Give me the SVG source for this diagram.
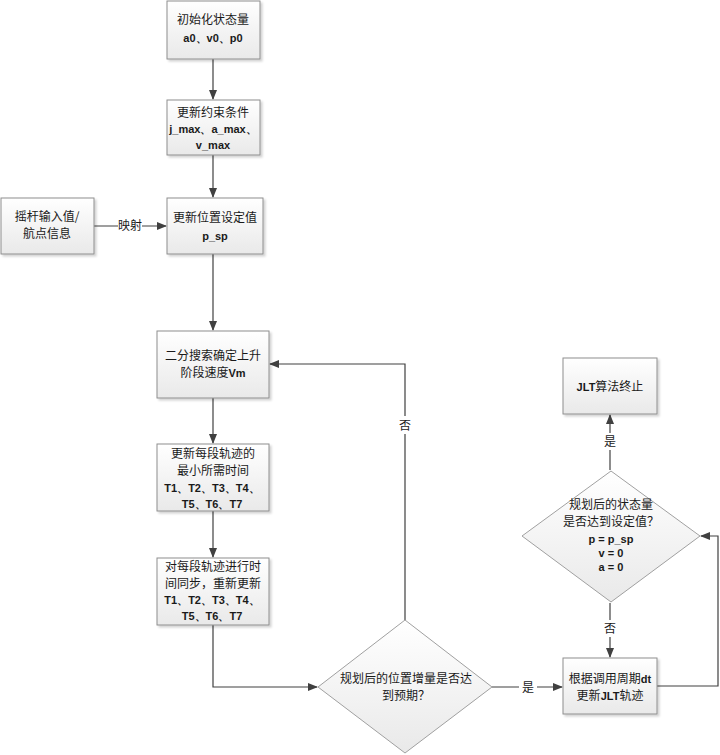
<svg xmlns="http://www.w3.org/2000/svg" width="720" height="755" viewBox="0 0 720 755">
<defs>
<linearGradient id="g" x1="0" y1="0" x2="0" y2="1">
<stop offset="0" stop-color="#ffffff"/>
<stop offset="1" stop-color="#e9e9e9"/>
</linearGradient>
<filter id="sh" x="-10%" y="-10%" width="130%" height="130%">
<feDropShadow dx="2" dy="2" stdDeviation="1.2" flood-color="#000" flood-opacity="0.18"/>
</filter>
<marker id="ah" markerWidth="10" markerHeight="8" refX="9" refY="4" orient="auto" markerUnits="userSpaceOnUse">
<path d="M0,0 L10,4 L0,8 Z" fill="#404040"/>
</marker>
<style>
.box{fill:url(#g);stroke:#8e8e8e;stroke-width:1;filter:url(#sh)}
.dia{fill:url(#g);stroke:#a0a0a0;stroke-width:1}
.cn{font-family:"Noto Sans CJK SC","Noto Sans",sans-serif;font-size:12px;fill:#1a1a1a;text-anchor:middle}
.en{font-family:"Liberation Sans","DejaVu Sans",sans-serif;font-size:11px;font-weight:bold;fill:#1a1a1a;text-anchor:middle}
.b{font-family:"Liberation Sans","DejaVu Sans",sans-serif;font-size:11px;font-weight:bold}
.ln{fill:none;stroke:#404040;stroke-width:1.2}
.lb{font-family:"Noto Sans CJK SC",sans-serif;font-size:12px;fill:#1a1a1a;text-anchor:middle}
</style>
</defs>
<rect width="720" height="755" fill="#ffffff"/>
<g id="connectors">
<path class="ln" d="M213,59 V99" marker-end="url(#ah)"/>
<path class="ln" d="M213,155 V197" marker-end="url(#ah)"/>
<path class="ln" d="M94,226 H166" marker-end="url(#ah)"/>
<rect x="118" y="218" width="24" height="16" fill="#fff"/>
<text class="lb" x="130" y="230">映射</text>
<path class="ln" d="M213,254 V330" marker-end="url(#ah)"/>
<path class="ln" d="M213,398 V443" marker-end="url(#ah)"/>
<path class="ln" d="M213,511 V557" marker-end="url(#ah)"/>
<path class="ln" d="M213,625 V687 H317" marker-end="url(#ah)"/>
<path class="ln" d="M405,620 V364 H270" marker-end="url(#ah)"/>
<rect x="396" y="416" width="18" height="18" fill="#fff"/>
<text class="lb" x="405" y="430">否</text>
<path class="ln" d="M492,687 H562" marker-end="url(#ah)"/>
<rect x="519" y="679" width="18" height="17" fill="#fff"/>
<text class="lb" x="528" y="692">是</text>
<path class="ln" d="M657,686 H718 V536 H701" marker-end="url(#ah)"/>
<path class="ln" d="M610,603 V657" marker-end="url(#ah)"/>
<rect x="601" y="620" width="18" height="17" fill="#fff"/>
<text class="lb" x="610" y="633">否</text>
<path class="ln" d="M610,470 V415" marker-end="url(#ah)"/>
<rect x="601" y="433" width="18" height="17" fill="#fff"/>
<text class="lb" x="610" y="446">是</text>
</g>
<g id="n1">
<rect class="box" x="167" y="1" width="93" height="58"/>
<text class="cn" x="213" y="24">初始化状态量</text>
<text class="en" x="213" y="42">a0、v0、p0</text>
</g>
<g id="n2">
<rect class="box" x="167" y="100" width="93" height="55"/>
<text class="cn" x="213" y="117">更新约束条件</text>
<text class="en" x="213" y="133">j_max、a_max、</text>
<text class="en" x="213" y="149">v_max</text>
</g>
<g id="n0">
<rect class="box" x="1" y="198" width="93" height="56"/>
<text class="cn" x="47" y="221">摇杆输入值/</text>
<text class="cn" x="47" y="238">航点信息</text>
</g>
<g id="n3">
<rect class="box" x="167" y="198" width="96" height="56"/>
<text class="cn" x="215" y="222">更新位置设定值</text>
<text class="en" x="215" y="240">p_sp</text>
</g>
<g id="n4">
<rect class="box" x="157" y="331" width="112" height="67"/>
<text class="cn" x="213" y="360">二分搜索确定上升</text>
<text class="cn" x="213" y="377">阶段速度<tspan class="b">Vm</tspan></text>
</g>
<g id="n5">
<rect class="box" x="157" y="444" width="112" height="67"/>
<text class="cn" x="213" y="458">更新每段轨迹的</text>
<text class="cn" x="213" y="475">最小所需时间</text>
<text class="en" x="212" y="492">T1、T2、T3、T4、</text>
<text class="en" x="212" y="508">T5、T6、T7</text>
</g>
<g id="n6">
<rect class="box" x="157" y="558" width="112" height="67"/>
<text class="cn" x="213" y="571">对每段轨迹进行时</text>
<text class="cn" x="213" y="588">间同步，重新更新</text>
<text class="en" x="212" y="604">T1、T2、T3、T4、</text>
<text class="en" x="212" y="620">T5、T6、T7</text>
</g>
<g id="d1">
<polygon class="dia" points="405,620 492,687 405,753 318,687"/>
<text class="cn" x="406" y="683">规划后的位置增量是否达</text>
<text class="cn" x="406" y="700">到预期？</text>
</g>
<g id="n7">
<rect class="box" x="563" y="658" width="94" height="56"/>
<text class="cn" x="610" y="683">根据调用周期<tspan class="b">dt</tspan></text>
<text class="cn" x="610" y="700">更新<tspan class="b">JLT</tspan>轨迹</text>
</g>
<g id="d2">
<polygon class="dia" points="611,471 700,536 611,602 522,536"/>
<text class="cn" x="611" y="509">规划后的状态量</text>
<text class="cn" x="611" y="526">是否达到设定值？</text>
<text class="en" x="611" y="543">p = p_sp</text>
<text class="en" x="611" y="557">v = 0</text>
<text class="en" x="611" y="571">a = 0</text>
</g>
<g id="n8">
<rect class="box" x="563" y="358" width="94" height="56"/>
<text class="cn" x="610" y="391"><tspan class="b">JLT</tspan>算法终止</text>
</g>
</svg>
